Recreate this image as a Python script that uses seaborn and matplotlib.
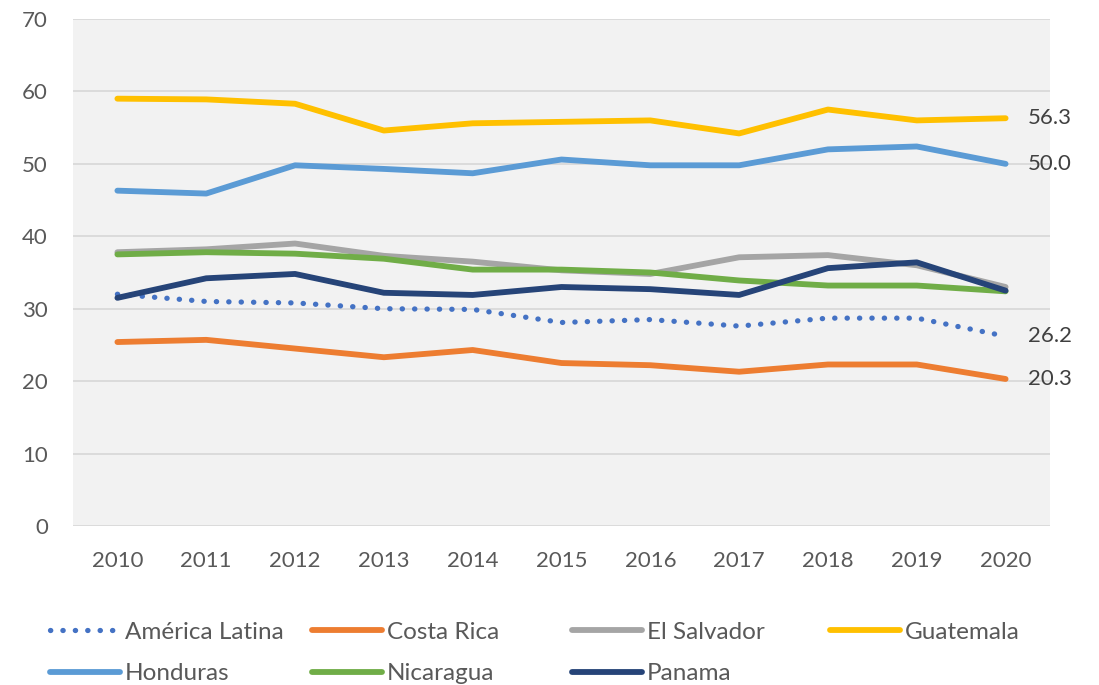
import matplotlib
matplotlib.use("Agg")
import matplotlib.pyplot as plt
import seaborn as sns

years = [2010, 2011, 2012, 2013, 2014, 2015, 2016, 2017, 2018, 2019, 2020]

america_latina = [32.0, 31.0, 30.8, 30.0, 29.9, 28.1, 28.5, 27.6, 28.7, 28.7, 26.2]
costa_rica = [25.4, 25.7, 24.5, 23.3, 24.3, 22.5, 22.2, 21.3, 22.3, 22.3, 20.3]
el_salvador = [37.8, 38.2, 39.0, 37.3, 36.5, 35.3, 34.8, 37.1, 37.4, 36.0, 33.0]
guatemala = [59.0, 58.9, 58.3, 54.6, 55.6, 55.8, 56.0, 54.2, 57.5, 56.0, 56.3]
honduras = [46.3, 45.9, 49.8, 49.3, 48.7, 50.6, 49.8, 49.8, 52.0, 52.4, 50.0]
nicaragua = [37.5, 37.8, 37.6, 36.9, 35.4, 35.4, 35.0, 33.9, 33.2, 33.2, 32.4]
panama = [31.5, 34.2, 34.8, 32.2, 31.9, 33.0, 32.7, 31.9, 35.6, 36.4, 32.5]

series = {
    "América Latina": america_latina,
    "Costa Rica": costa_rica,
    "El Salvador": el_salvador,
    "Guatemala": guatemala,
    "Honduras": honduras,
    "Nicaragua": nicaragua,
    "Panama": panama,
}
colors = {
    "América Latina": "#4472C4",
    "Costa Rica": "#ED7D31",
    "El Salvador": "#A5A5A5",
    "Guatemala": "#FFC000",
    "Honduras": "#5B9BD5",
    "Nicaragua": "#70AD47",
    "Panama": "#264478",
}
# series that get a value label at the last year
labelled = ["Guatemala", "Honduras", "América Latina", "Costa Rica"]

sns.set_style("white")
plt.rcParams["font.family"] = ["Lato", "DejaVu Sans"]

fig = plt.figure(figsize=(10.99, 6.85), dpi=100)
ax = fig.add_axes([73 / 1099, 1 - 526 / 685, 977 / 1099, 507 / 685])
ax.set_facecolor("#F2F2F2")

handles = {}
for name, vals in series.items():
    sns.lineplot(x=years, y=vals, color=colors[name], linewidth=4.2, ax=ax,
                 label=name, legend=False)
    line = ax.lines[-1]
    line.set_solid_capstyle("round")
    if name == "América Latina":
        line.set_linewidth(3.8)
        line.set_linestyle((0, (0.05, 2.3)))
        line.set_dash_capstyle("round")
    handles[name] = line

for name in labelled:
    ax.annotate(f"{series[name][-1]:.1f}", xy=(years[-1], series[name][-1]),
                xytext=(16, 0), textcoords="offset points", va="center",
                ha="left", fontsize=16, color="#404040", annotation_clip=False)

ax.set_xlim(2009.5, 2020.5)
ax.set_ylim(0, 70)
ax.set_xticks(years)
ax.set_yticks(range(0, 71, 10))
ax.grid(axis="y", color="#D9D9D9", linewidth=1.3)
ax.set_axisbelow(True)
for s in ax.spines.values():
    s.set_visible(False)
ax.tick_params(axis="both", length=0, labelsize=16, labelcolor="#595959")
ax.tick_params(axis="y", pad=18)
ax.tick_params(axis="x", pad=18)
ax.set_xlabel("")
ax.set_ylabel("")

# legend: four fixed-width columns like the original
columns = [["América Latina", "Honduras"], ["Costa Rica", "Nicaragua"],
           ["El Salvador", "Panama"], ["Guatemala"]]
col_x = [40, 302, 562, 820]
for names, x in zip(columns, col_x):
    leg = fig.legend([handles[n] for n in names], names, ncol=1,
                     loc="upper left", bbox_to_anchor=(x / 1099, 1 - 612 / 685),
                     frameon=False, fontsize=17.5, handlelength=2.9,
                     handletextpad=0.2, labelspacing=0.85, borderaxespad=0)
    for t in leg.get_texts():
        t.set_color("#595959")

fig.savefig("out.png", dpi=100)
